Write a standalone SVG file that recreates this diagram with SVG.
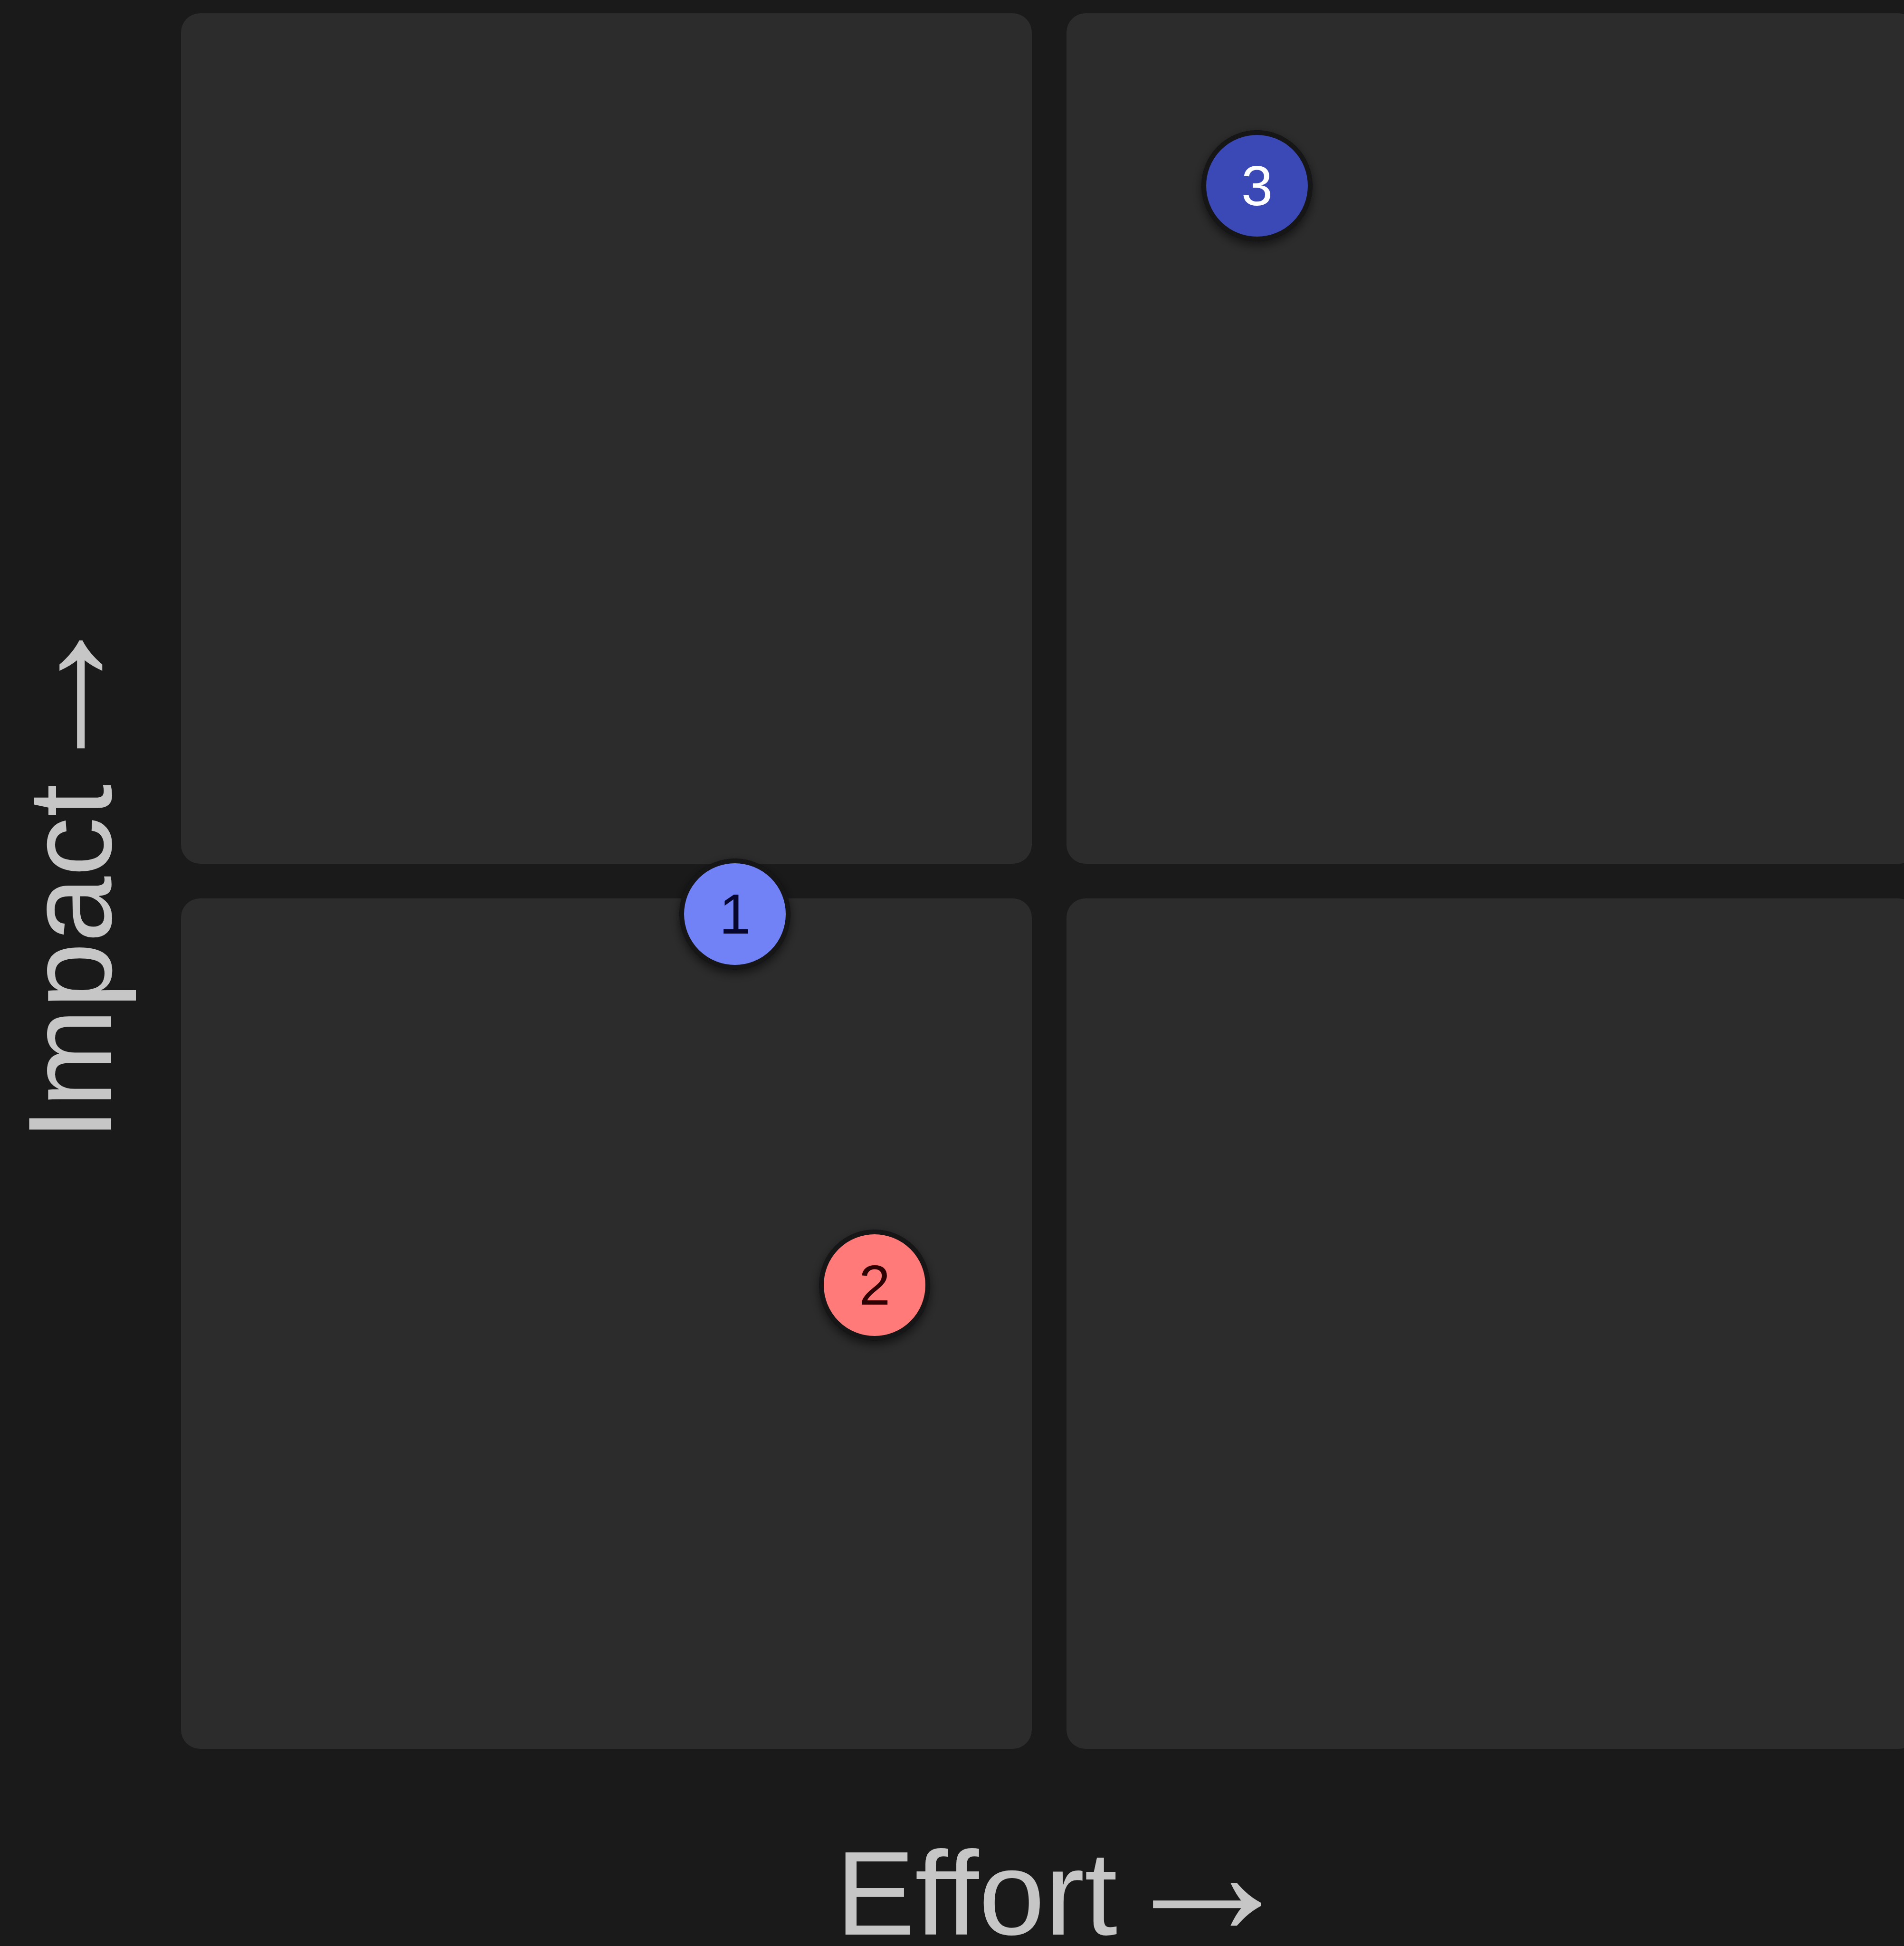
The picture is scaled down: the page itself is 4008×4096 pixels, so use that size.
<svg xmlns="http://www.w3.org/2000/svg" width="4008" height="4096" viewBox="0 0 4008 4096">
  <defs>
    <style>
      .quad { fill: #2c2c2c; }
      .dot { stroke: #131318; stroke-width: 10; filter: url(#shadow); }
      .num { font-family: "Liberation Sans", Arial, sans-serif; font-size: 119px; text-anchor: middle; }
      .axis { font-family: "Liberation Sans", Arial, sans-serif; font-size: 250px; fill: #c6c6c6; text-anchor: middle; }
      .arrow { font-size: 384px; }
    </style>
    <filter id="shadow" x="-50%" y="-50%" width="200%" height="200%">
      <feDropShadow dx="0" dy="8" stdDeviation="10" flood-color="#000000" flood-opacity="0.55"/>
    </filter>
  </defs>
  <rect x="0" y="0" width="4008" height="4096" fill="#1a1a1a"/>
  <g id="quadrant-top-left"><rect class="quad" x="381" y="28" width="1791" height="1790" rx="40" ry="40"/></g>
  <g id="quadrant-top-right"><rect class="quad" x="2245" y="28" width="1791" height="1790" rx="40" ry="40"/></g>
  <g id="quadrant-bottom-left"><rect class="quad" x="381" y="1891" width="1791" height="1790" rx="40" ry="40"/></g>
  <g id="quadrant-bottom-right"><rect class="quad" x="2245" y="1891" width="1791" height="1790" rx="40" ry="40"/></g>
  <g id="connectors"/>
  <g id="item-1">
    <circle class="dot" cx="1547" cy="1924" r="112" fill="#7181f6"/>
    <text class="num" x="1547" y="1965" fill="#05052e">1</text>
  </g>
  <g id="item-2">
    <circle class="dot" cx="1841" cy="2705" r="112" fill="#ff7a78"/>
    <text class="num" x="1841" y="2746" fill="#2e0202">2</text>
  </g>
  <g id="item-3">
    <circle class="dot" cx="2646" cy="391" r="112" fill="#3a48b6"/>
    <text class="num" x="2646" y="432" fill="#ffffff">3</text>
  </g>
  <g id="axis-x"><text class="axis" x="2246" y="4072">Effort<tspan class="arrow" dx="-110"> →</tspan></text></g>
  <g id="axis-y"><text class="axis" transform="translate(234,1835) rotate(-90)" x="0" y="0">Impact<tspan class="arrow" dx="-110"> →</tspan></text></g>
</svg>
